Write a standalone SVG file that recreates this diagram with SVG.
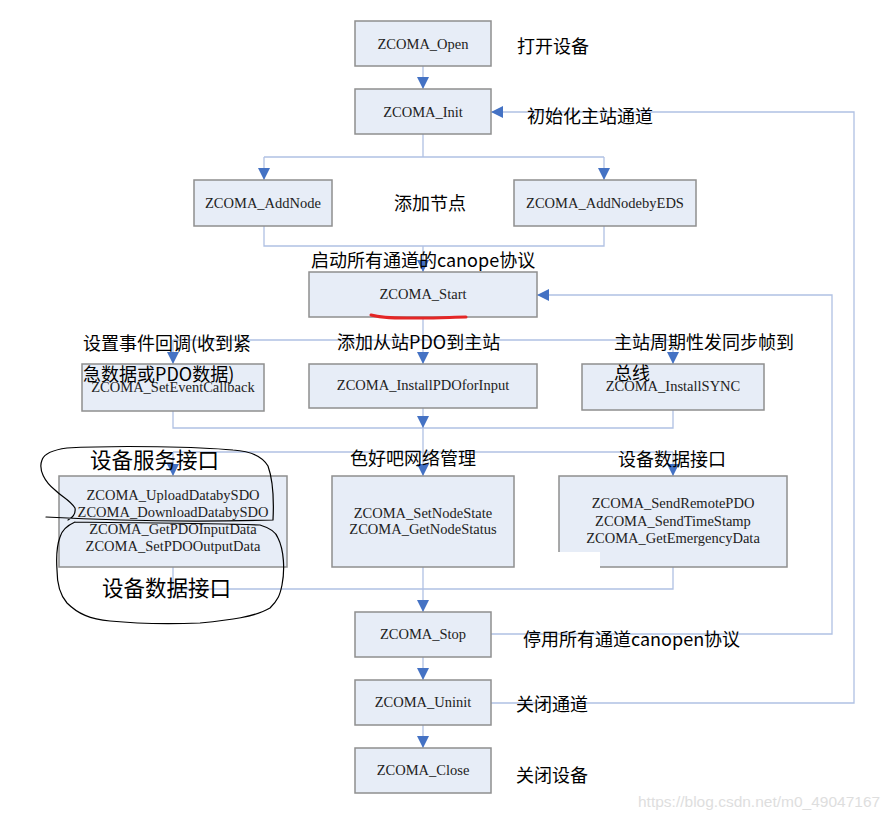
<svg xmlns="http://www.w3.org/2000/svg" width="894" height="820" viewBox="0 0 894 820">
<style>
.box{fill:#E7EDF7;stroke:#8F8F8F;stroke-width:1.5}
.lbl{font-family:"Liberation Serif","Times New Roman",serif;font-size:14.5px;fill:#222;text-anchor:middle}
.ann{font-family:"Noto Sans CJK SC","Noto Sans",sans-serif;font-size:18px;fill:#000}
.big{font-size:21.5px}
.con{fill:none;stroke:#B0C1E3;stroke-width:1.3}
.hand{fill:none;stroke:#000;stroke-width:1.2;stroke-linejoin:round;stroke-linecap:round}
</style>
<defs>
<marker id="arr" markerUnits="userSpaceOnUse" markerWidth="12" markerHeight="14" refX="12" refY="6" orient="auto">
<path d="M0,0 L12,6 L0,12 Z" fill="#4472C4"/>
</marker>
</defs>
<rect width="894" height="820" fill="#fff"/>

<g id="connectors">
<path class="con" d="M423,66 V89" marker-end="url(#arr)"/>
<path class="con" d="M423,134 V157 M264,157 H604"/>
<path class="con" d="M264,157 V180" marker-end="url(#arr)"/>
<path class="con" d="M604,157 V180" marker-end="url(#arr)"/>
<path class="con" d="M264,226 V246 H604 V226"/>
<path class="con" d="M423,246 V272" marker-end="url(#arr)"/>
<path class="con" d="M423,317 V340 M173,340 H673"/>
<path class="con" d="M173,340 V364" marker-end="url(#arr)"/>
<path class="con" d="M423,340 V364" marker-end="url(#arr)"/>
<path class="con" d="M673,340 V364" marker-end="url(#arr)"/>
<path class="con" d="M173,411 V428 H673 V410"/>
<path class="con" d="M423,408 V428" marker-end="url(#arr)"/>
<path class="con" d="M423,428 V476" marker-end="url(#arr)"/>
<path class="con" d="M173,452 H673"/>
<path class="con" d="M173,452 V476" marker-end="url(#arr)"/>
<path class="con" d="M673,452 V476" marker-end="url(#arr)"/>
<path class="con" d="M173,567 V589 H673 V567"/>
<path class="con" d="M423,567 V612" marker-end="url(#arr)"/>
<path class="con" d="M423,657 V680" marker-end="url(#arr)"/>
<path class="con" d="M423,725 V748" marker-end="url(#arr)"/>
<path class="con" d="M491,634 H832 V295 H537" marker-end="url(#arr)"/>
<path class="con" d="M491,703 H854 V112 H491" marker-end="url(#arr)"/>
</g>

<g id="n-open"><rect class="box" x="355" y="21" width="136" height="45"/><text class="lbl" x="423" y="49">ZCOMA_Open</text></g>
<g id="n-init"><rect class="box" x="355" y="89" width="136" height="45"/><text class="lbl" x="423" y="117">ZCOMA_Init</text></g>
<g id="n-addnode"><rect class="box" x="194" y="180" width="138" height="46"/><text class="lbl" x="263" y="208">ZCOMA_AddNode</text></g>
<g id="n-addnodeeds"><rect class="box" x="514" y="180" width="182" height="46"/><text class="lbl" x="605" y="208">ZCOMA_AddNodebyEDS</text></g>
<g id="n-start"><rect class="box" x="309" y="272" width="228" height="45"/><text class="lbl" x="423" y="299">ZCOMA_Start</text></g>
<g id="n-event"><rect class="box" x="82" y="364" width="182" height="47"/><text class="lbl" x="173" y="392">ZCOMA_SetEventCallback</text></g>
<g id="n-pdo"><rect class="box" x="309" y="364" width="228" height="44"/><text class="lbl" x="423" y="390">ZCOMA_InstallPDOforInput</text></g>
<g id="n-sync"><rect class="box" x="582" y="364" width="182" height="46"/><text class="lbl" x="673" y="391">ZCOMA_InstallSYNC</text></g>
<g id="n-service"><rect class="box" x="59" y="476" width="228" height="91"/>
<text class="lbl" x="173" y="500">ZCOMA_UploadDatabySDO</text>
<text class="lbl" x="173" y="517">ZCOMA_DownloadDatabySDO</text>
<text class="lbl" x="173" y="534">ZCOMA_GetPDOInputData</text>
<text class="lbl" x="173" y="551">ZCOMA_SetPDOOutputData</text></g>
<g id="n-nmt"><rect class="box" x="332" y="476" width="182" height="91"/>
<text class="lbl" x="423" y="518">ZCOMA_SetNodeState</text>
<text class="lbl" x="423" y="534">ZCOMA_GetNodeStatus</text></g>
<g id="n-data"><rect class="box" x="559" y="476" width="228" height="91"/>
<text class="lbl" x="673" y="508">ZCOMA_SendRemotePDO</text>
<text class="lbl" x="673" y="526">ZCOMA_SendTimeStamp</text>
<text class="lbl" x="673" y="543">ZCOMA_GetEmergencyData</text></g>
<g id="n-stop"><rect class="box" x="355" y="612" width="136" height="45"/><text class="lbl" x="423" y="639">ZCOMA_Stop</text></g>
<g id="n-uninit"><rect class="box" x="355" y="680" width="136" height="45"/><text class="lbl" x="423" y="707">ZCOMA_Uninit</text></g>
<g id="n-close"><rect class="box" x="355" y="748" width="136" height="45"/><text class="lbl" x="423" y="775">ZCOMA_Close</text></g>

<rect x="558" y="552" width="42" height="16" fill="#fff"/>

<g id="annotations">
<text class="ann" x="517" y="53">打开设备</text>
<text class="ann" x="527" y="123">初始化主站通道</text>
<text class="ann" x="394" y="210">添加节点</text>
<text class="ann" x="311" y="267">启动所有通道的canope协议</text>
<text class="ann" x="83" y="350">设置事件回调(收到紧</text>
<text class="ann" x="83" y="381">急数据或PDO数据)</text>
<text class="ann" x="337" y="349">添加从站PDO到主站</text>
<text class="ann" x="614" y="349">主站周期性发同步帧到</text>
<text class="ann" x="614" y="380">总线</text>
<text class="ann big" x="90" y="468">设备服务接口</text>
<text class="ann" x="350" y="465">色好吧网络管理</text>
<text class="ann" x="618" y="466">设备数据接口</text>
<text class="ann big" x="102" y="596">设备数据接口</text>
<text class="ann" x="523" y="646">停用所有通道canopen协议</text>
<text class="ann" x="516" y="711">关闭通道</text>
<text class="ann" x="516" y="782">关闭设备</text>
</g>

<path d="M371,315 C385,319 400,318 420,318 S455,317 466,317" fill="none" stroke="#E42626" stroke-width="3" stroke-linecap="round"/>

<g id="handdrawn">
<path class="hand" d="M46,517 C120,521 200,522 273,520 C274,500 273,480 268,466 C262,456 250,451 233,450 C200,447 120,445 67,448 C52,450 44,454 42,460 C38,470 45,482 55,490 C62,497 70,500 75,508 C76,514 72,518 68,520"/>
<path class="hand" d="M75,522 C140,523 210,523 260,525 C270,528 276,532 278,538 C284,550 285,570 282,585 C280,595 278,600 270,608 C255,617 230,620 200,623 C170,624 140,624 110,621 C90,619 78,614 67,603 C60,595 57,585 57,570 C56,555 57,545 60,537 C62,530 66,526 75,522"/>
</g>

<text x="638" y="807" font-family="Liberation Sans,Arial,sans-serif" font-size="15.5px" fill="#DEDEDE">https://blog.csdn.net/m0_49047167</text>
</svg>
